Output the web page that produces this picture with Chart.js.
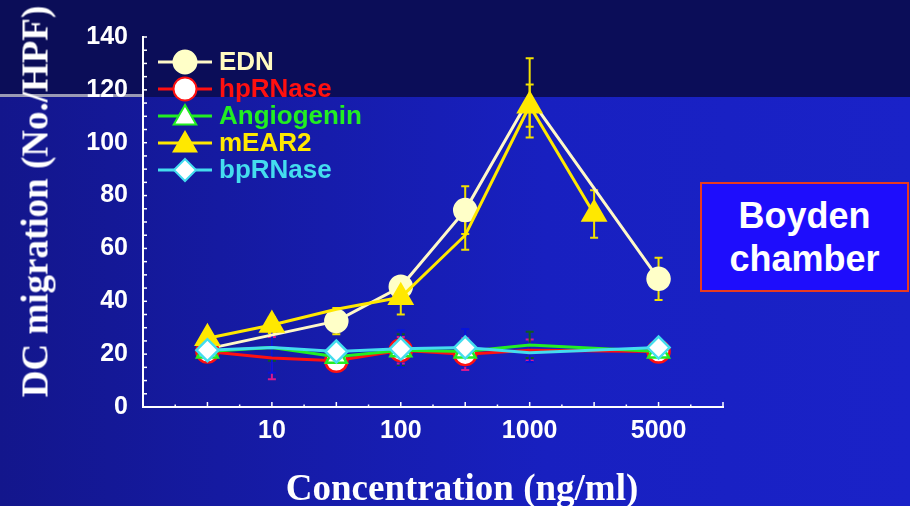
<!DOCTYPE html>
<html>
<head>
<meta charset="utf-8">
<script src="https://cdn.jsdelivr.net/npm/chart.js@4"></script>
<style>
  html, body { margin: 0; padding: 0; }
  #wrap {
    position: relative; width: 910px; height: 506px; overflow: hidden;
    background: linear-gradient(to right, #13168c 0%, #1820c0 60%, #1a22c8 100%);
  }
  #band { position: absolute; left: 0; top: 0; width: 910px; height: 97px; background: #0b0d58; }
  #rule { position: absolute; left: 0; top: 94px; width: 143px; height: 3px; background: #9a9ab4; }
  #chart { position: absolute; left: 0; top: 0; }
  .ttl { position: absolute; color: #fff; font: bold 37px "Liberation Serif", "Times New Roman", serif;
         line-height: 37px; text-align: center; white-space: nowrap; }
  #ytitle { left: -175px; top: 183px; width: 420px; transform: rotate(-90deg); }
  #xtitle { left: 162px; top: 469px; width: 600px; }
  #boyden {
    position: absolute; left: 700px; top: 182px; width: 209px; height: 110px; box-sizing: border-box;
    border: 2px solid #e83a20; background: #1e0dfc; color: #fff;
    font: bold 36px "Liberation Sans", Arial, sans-serif; line-height: 43px; text-align: center;
    display: flex; flex-direction: column; justify-content: center;
  }
</style>
</head>
<body>
<div id="wrap">
  <div id="band"></div>
  <div id="rule"></div>
  <canvas id="chart" width="910" height="506"></canvas>
  <div class="ttl" id="ytitle">DC migration (No./HPF)</div>
  <div class="ttl" id="xtitle">Concentration (ng/ml)</div>
  <div id="boyden"><div>Boyden</div><div>chamber</div></div>
</div>
<script>
// concentrations (ng/ml), one slot each on the x axis
const concentrations = ["3", "10", "30", "100", "300", "1000", "3000", "5000"];
const shownTicks = ["10", "100", "1000", "5000"];
const yTicks = [0, 20, 40, 60, 80, 100, 120, 140];

// values (null = no point)
const ednValues   = [22, null, 32.5, 45.5, 74.5, 117, null, 48.5];
const ednErr      = [2, null, 5, 3, 9, 15, null, 8];
const hpValues    = [21, 18.5, 17.5, 21.5, 20, 21.5, null, 21];
const hpErr       = [2, 8, 2, 5, 6, 4, null, 2];
const angValues   = [21, 22.5, 19, 21.5, 21, 23.5, null, 21];
const angErr      = [2, 5, 2, 6, 3, 5, null, 2];
const mearValues  = [26, 31, 37, 41.5, 65, 114, 73, null];
const mearErr     = [2, 3, null, 6.5, 5.5, 8, 9, null];
const bpValues    = [21.5, 22.5, 21, 22, 22.5, 20.5, null, 22.5];
const bpErr       = [2, 9.5, 2, 7, 7, 3.5, null, 2];

// which points show a marker (radius, 0 = none)
const ednMarks  = [0, 0, 11, 11, 11, 0, 0, 11];
const hpMarks   = [11, 0, 11, 11, 11, 0, 0, 11];
const angMarks  = [12, 0, 12, 12, 12, 0, 0, 12];
const mearMarks = [13, 13, 0, 13, 0, 13, 13, 0];
const bpMarks   = [11, 0, 11, 11, 11, 0, 0, 11];

const toPoints = vals => vals.map((v, i) => ({ x: i + 1, y: v }));

const series = [
  { label: "EDN", data: ednValues, err: ednErr, marks: ednMarks, line: "#fff8c8", fill: "#ffffc8",
    edge: "#ffffc8", style: "circle", errColor: "#f2e200", text: "#fffac0", order: 5 },
  { label: "hpRNase", data: hpValues, err: hpErr, marks: hpMarks, line: "#ff1010", fill: "#ffffff",
    edge: "#ff1010", style: "circle", errColor: "#d8188e", text: "#ff1010", order: 4 },
  { label: "Angiogenin", data: angValues, err: angErr, marks: angMarks, line: "#22ee22", fill: "#ffffff",
    edge: "#22ee22", style: "triangle", errColor: "#0e5a24", text: "#22ee22", order: 3 },
  { label: "mEAR2", data: mearValues, err: mearErr, marks: mearMarks, line: "#ffe800", fill: "#ffe800",
    edge: "#ffe800", style: "triangle", errColor: "#f2e200", text: "#ffe800", order: 2 },
  { label: "bpRNase", data: bpValues, err: bpErr, marks: bpMarks, line: "#44ddee", fill: "#ffffff",
    edge: "#44ddee", style: "rectRot", errColor: "#0814d8", text: "#44ddee", order: 1 }
];

function drawMarker(ctx, style, x, y, r) {
  ctx.beginPath();
  if (style === "circle") {
    ctx.arc(x, y, r, 0, Math.PI * 2);
  } else if (style === "triangle") {
    ctx.moveTo(x, y - r);
    ctx.lineTo(x + r * 0.866, y + r / 2);
    ctx.lineTo(x - r * 0.866, y + r / 2);
  } else {
    ctx.moveTo(x, y - r);
    ctx.lineTo(x + r, y);
    ctx.lineTo(x, y + r);
    ctx.lineTo(x - r, y);
  }
  ctx.closePath();
  ctx.fill();
  ctx.stroke();
}

// error bars, under the lines
const errorBars = {
  id: "errorBars",
  beforeDatasetsDraw(chart) {
    const { ctx, scales: { x, y } } = chart;
    ctx.save();
    ctx.lineWidth = 2;
    series.forEach(s => {
      ctx.strokeStyle = s.errColor;
      s.data.forEach((v, i) => {
        const e = s.err[i];
        if (v == null || !e) return;
        const px = x.getPixelForValue(i + 1);
        const top = y.getPixelForValue(v + e);
        const bot = y.getPixelForValue(v - e);
        ctx.beginPath();
        ctx.moveTo(px, top); ctx.lineTo(px, bot);
        ctx.moveTo(px - 4, top); ctx.lineTo(px + 4, top);
        ctx.moveTo(px - 4, bot); ctx.lineTo(px + 4, bot);
        ctx.stroke();
      });
    });
    ctx.restore();
  }
};

// small inward tick marks and the legend
const decorations = {
  id: "decorations",
  afterDraw(chart) {
    const { ctx, scales: { x, y }, chartArea: area } = chart;
    ctx.save();
    ctx.strokeStyle = "#ffffff";
    ctx.lineWidth = 1.5;
    for (let t = 0.5; t <= 9; t += 0.5) {
      const px = x.getPixelForValue(t);
      const len = Number.isInteger(t) ? 5 : 2.5;
      ctx.beginPath();
      ctx.moveTo(px, area.bottom);
      ctx.lineTo(px, area.bottom - len);
      ctx.stroke();
    }
    for (let t = 5; t <= 140; t += 5) {
      const py = y.getPixelForValue(t);
      ctx.beginPath();
      ctx.moveTo(area.left, py);
      ctx.lineTo(area.left + 4, py);
      ctx.stroke();
    }

    // legend
    ctx.font = 'bold 26px "Liberation Sans", Arial, sans-serif';
    ctx.textBaseline = "middle";
    series.forEach((s, i) => {
      const ly = area.top + 25 + i * 27;
      const lx = area.left + 15;
      ctx.strokeStyle = s.line;
      ctx.lineWidth = 3;
      ctx.beginPath();
      ctx.moveTo(lx, ly); ctx.lineTo(lx + 54, ly);
      ctx.stroke();
      ctx.fillStyle = s.fill;
      ctx.strokeStyle = s.edge;
      ctx.lineWidth = 2;
      const r = s.style === "triangle" ? 13 : s.style === "circle" ? 11.5 : 11;
      drawMarker(ctx, s.style, lx + 27, s.style === "triangle" ? ly + 2 : ly, r);
      ctx.fillStyle = s.text;
      ctx.fillText(s.label, lx + 61, ly + 1);
    });
    ctx.restore();
  }
};

const datasets = series.map(s => ({
  label: s.label,
  data: toPoints(s.data),
  borderColor: s.line,
  borderWidth: 3,
  backgroundColor: s.fill,
  pointBackgroundColor: s.fill,
  pointBorderColor: s.edge,
  pointBorderWidth: 2.5,
  pointStyle: s.style,
  pointRadius: s.marks,
  pointHoverRadius: s.marks,
  spanGaps: true,
  tension: 0,
  order: s.order
}));

const tickFont = { family: '"Liberation Sans", Arial, sans-serif', size: 25, weight: "bold" };

new Chart(document.getElementById("chart").getContext("2d"), {
  type: "line",
  data: { datasets },
  plugins: [errorBars, decorations],
  options: {
    responsive: false,
    animation: false,
    devicePixelRatio: 1,
    layout: { padding: { top: 37, right: 187, left: 0, bottom: 0 } },
    plugins: { legend: { display: false }, tooltip: { enabled: false } },
    scales: {
      x: {
        type: "linear",
        min: 0,
        max: 9,
        afterFit: s => { s.height = 99; },
        afterBuildTicks: s => { s.ticks = concentrations.map((c, i) => ({ value: i + 1 })); },
        grid: { display: true, drawOnChartArea: false, drawTicks: false, tickLength: 0 },
        border: { display: true, color: "#ffffff", width: 2 },
        ticks: {
          color: "#ffffff",
          font: tickFont,
          padding: 9,
          autoSkip: false,
          maxRotation: 0,
          callback: v => {
            const c = concentrations[v - 1];
            return shownTicks.includes(c) ? c : "";
          }
        }
      },
      y: {
        min: 0,
        max: 140,
        afterFit: s => { s.width = 143; },
        afterBuildTicks: s => { s.ticks = yTicks.map(v => ({ value: v })); },
        grid: { display: true, drawOnChartArea: false, drawTicks: false, tickLength: 0 },
        border: { display: true, color: "#ffffff", width: 2 },
        ticks: { color: "#ffffff", font: tickFont, padding: 15 }
      }
    }
  }
});
</script>
</body>
</html>
